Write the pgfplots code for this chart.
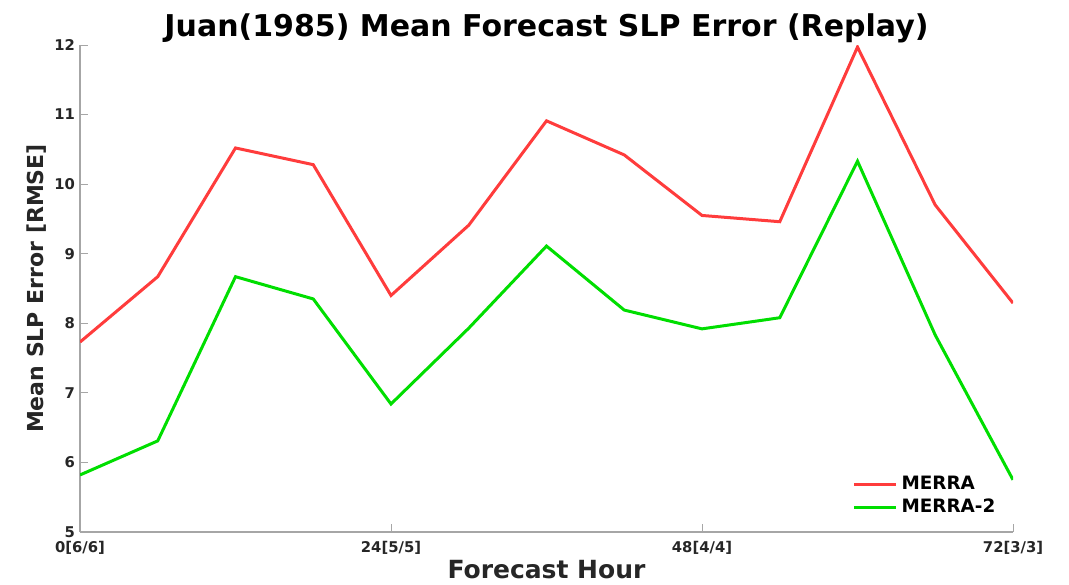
\documentclass[border=0pt]{standalone}
\usepackage{pgfplots}
\pgfplotsset{compat=1.18}
\usepackage{fontspec}
\setmainfont{DejaVu Sans}
\definecolor{mred}{RGB}{255,60,60}
\definecolor{mgreen}{RGB}{0,222,0}
\begin{document}
\begin{tikzpicture}
\begin{axis}[
  scale only axis,
  width=466.5pt, height=243.5pt,
  xmin=0, xmax=72, ymin=5, ymax=12,
  axis x line*=bottom, axis y line*=left,
  axis line style={gray!70, line width=0.6pt},
  tick style={gray!70, line width=0.5pt},
  tick align=inside,
  major tick length=4pt,
  xtick={0,24,48,72},
  xticklabels={{0[6/6]},{24[5/5]},{48[4/4]},{72[3/3]}},
  ytick={5,6,7,8,9,10,11,12},
  /pgf/number format/assume math mode=true,
  tick label style={font=\fontsize{7.4}{8.5}\selectfont\bfseries, black!85},
  yticklabel style={xshift=1pt},
  xticklabel style={yshift=-1pt},
  title={Juan(1985) Mean Forecast SLP Error (Replay)},
  title style={font=\fontsize{15}{16}\selectfont\bfseries, yshift=-6pt, inner sep=1pt, overlay},
  xlabel={Forecast Hour},
  ylabel={Mean SLP Error [RMSE]},
  xlabel style={font=\fontsize{12.5}{14}\selectfont\bfseries, black!85, yshift=1.5pt, inner sep=1pt, overlay},
  ylabel style={font=\fontsize{11}{13}\selectfont\bfseries, black!85, yshift=-3pt},
  legend style={draw=none, fill=none, at={(0.988,0.02)}, anchor=south east,
    font=\fontsize{9.2}{11}\selectfont\bfseries, row sep=-0.5pt, inner sep=1pt},
  legend cell align=left,
  legend image code/.code={\draw[#1, line width=1.5pt] (0pt,0pt) -- (21pt,0pt);},
  every axis plot/.append style={line width=1.5pt},
]
\addplot[mred] coordinates {
(0,7.73) (6,8.67) (12,10.52) (18,10.28) (24,8.40) (30,9.41) (36,10.91)
(42,10.42) (48,9.55) (54,9.46) (60,11.97) (66,9.70) (72,8.29)};
\addlegendentry{MERRA}
\addplot[mgreen] coordinates {
(0,5.82) (6,6.31) (12,8.67) (18,8.35) (24,6.84) (30,7.93) (36,9.11)
(42,8.19) (48,7.92) (54,8.08) (60,10.33) (66,7.83) (72,5.75)};
\addlegendentry{MERRA-2}
\end{axis}
\path (current axis.south west) ++(-40pt,-26pt) coordinate (bl);
\path (current axis.north east) ++(28pt,22.5pt) coordinate (tr);
\path[use as bounding box] (bl) rectangle (tr);
\end{tikzpicture}
\end{document}
